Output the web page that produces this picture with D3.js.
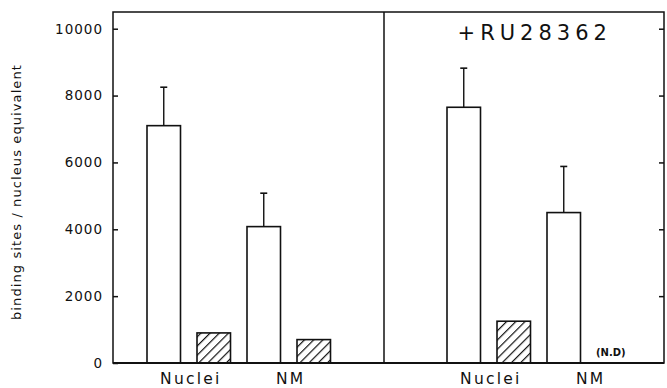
<!DOCTYPE html>
<html>
<head>
<meta charset="utf-8">
<script src="https://cdn.jsdelivr.net/npm/d3@7"></script>
<style>
  body { margin: 0; background: #fff; }
  svg { display: block; font-family: "DejaVu Sans", sans-serif; }
</style>
</head>
<body>
<svg width="667" height="388"></svg>
<script>
// data
var panels = ["control", "+RU28362"];
var categories = ["Nuclei", "NM"];
var openValues = [[7100, 4080], [7650, 4500]];
var openErrors = [[1150, 1000], [1170, 1380]];
var hatchedValues = [[900, 700], [1250, null]]; // null = not determined
var yTicks = [0, 2000, 4000, 6000, 8000, 10000];

var svg = d3.select("svg"),
    width = +svg.attr("width"),
    height = +svg.attr("height");

// note: "top" is reserved on window, so plot edges get their own names
var plotL = 113, plotR = 664, plotT = 12, plotB = 363;

// one slot per bar, 6 slots between the two panels' first bars
var x = d3.scaleLinear().domain([-0.68, 10.34]).range([plotL, plotR]),
    y = d3.scaleLinear().domain([0, 10500]).range([plotB, plotT]),
    barW = 33.5,
    panelOffset = 6,
    divider = 4.74;

// hatch pattern
var defs = svg.append("defs");
defs.append("pattern")
    .attr("id", "hatch")
    .attr("patternUnits", "userSpaceOnUse")
    .attr("width", 6.5).attr("height", 6.5)
    .attr("patternTransform", "rotate(45)")
  .append("line")
    .attr("x1", 0).attr("y1", 0).attr("x2", 0).attr("y2", 6.5)
    .attr("stroke", "#111").attr("stroke-width", 2.4);

var bars = [];
panels.forEach(function(p, pi) {
  categories.forEach(function(c, ci) {
    var s = pi * panelOffset + ci * 2;
    bars.push({slot: s, value: openValues[pi][ci], err: openErrors[pi][ci], type: "open", cat: c});
    bars.push({slot: s + 1, value: hatchedValues[pi][ci], err: null, type: "hatched", cat: c});
  });
});

var g = svg.append("g");

// bars
g.selectAll(".bar")
  .data(bars.filter(function(d) { return d.value != null; }))
  .enter().append("rect")
    .attr("class", "bar")
    .attr("x", function(d) { return x(d.slot); })
    .attr("y", function(d) { return y(d.value); })
    .attr("width", barW)
    .attr("height", function(d) { return y(0) - y(d.value); })
    .attr("fill", function(d) { return d.type == "hatched" ? "url(#hatch)" : "#fff"; })
    .attr("stroke", "#111")
    .attr("stroke-width", 1.6);

// error bars (upper only)
var eb = g.selectAll(".err")
  .data(bars.filter(function(d) { return d.err != null; }))
  .enter().append("g").attr("class", "err");
eb.append("line")
    .attr("x1", function(d) { return x(d.slot) + barW / 2; })
    .attr("x2", function(d) { return x(d.slot) + barW / 2; })
    .attr("y1", function(d) { return y(d.value); })
    .attr("y2", function(d) { return y(d.value + d.err); })
    .attr("stroke", "#111").attr("stroke-width", 1.4);
eb.append("line")
    .attr("x1", function(d) { return x(d.slot) + barW / 2 - 3.5; })
    .attr("x2", function(d) { return x(d.slot) + barW / 2 + 3.5; })
    .attr("y1", function(d) { return y(d.value + d.err); })
    .attr("y2", function(d) { return y(d.value + d.err); })
    .attr("stroke", "#111").attr("stroke-width", 1.6);

// N.D label for missing bars
g.selectAll(".nd")
  .data(bars.filter(function(d) { return d.value == null; }))
  .enter().append("text")
    .attr("x", function(d) { return x(d.slot) + barW / 2 - 3; })
    .attr("y", y(0) - 7)
    .attr("text-anchor", "middle")
    .attr("font-size", 10)
    .attr("font-weight", "bold")
    .attr("fill", "#111")
    .text("(N.D)");

// frame + divider
svg.append("rect")
    .attr("x", plotL).attr("y", plotT)
    .attr("width", plotR - plotL).attr("height", plotB - plotT)
    .attr("fill", "none").attr("stroke", "#111").attr("stroke-width", 1.5);
svg.append("line")
    .attr("x1", plotL).attr("x2", plotR)
    .attr("y1", plotB).attr("y2", plotB)
    .attr("stroke", "#111").attr("stroke-width", 2.2);
svg.append("line")
    .attr("x1", x(divider)).attr("x2", x(divider))
    .attr("y1", plotT).attr("y2", plotB)
    .attr("stroke", "#111").attr("stroke-width", 1.5);

// axes, ticks pointing inward
var yAxisL = svg.append("g")
    .attr("transform", "translate(" + plotL + ",0)")
    .call(d3.axisRight(y).tickValues(yTicks).tickSize(5).tickFormat(""));
var yAxisR = svg.append("g")
    .attr("transform", "translate(" + plotR + ",0)")
    .call(d3.axisLeft(y).tickValues(yTicks.slice(1)).tickSize(5).tickFormat(""));
[yAxisL, yAxisR].forEach(function(a) {
  a.select(".domain").remove();
  a.selectAll("line").attr("stroke", "#111").attr("stroke-width", 1.5);
});

svg.append("g").selectAll("text")
  .data(yTicks)
  .enter().append("text")
    .attr("x", plotL - 10)
    .attr("y", function(d) { return y(d); })
    .attr("dy", "0.36em")
    .attr("text-anchor", "end")
    .attr("font-size", 13.5)
    .attr("letter-spacing", 1)
    .attr("fill", "#111")
    .text(function(d) { return d; });

// category labels
var catLabels = [];
panels.forEach(function(p, pi) {
  categories.forEach(function(c, ci) {
    catLabels.push({slot: pi * panelOffset + ci * 2, name: c});
  });
});
svg.append("g").selectAll("text")
  .data(catLabels)
  .enter().append("text")
    .attr("x", function(d) { return (x(d.slot) + x(d.slot + 1) + barW) / 2 + 2; })
    .attr("y", 384)
    .attr("text-anchor", "middle")
    .attr("font-size", 15.5)
    .attr("letter-spacing", 2.2)
    .attr("fill", "#111")
    .text(function(d) { return d.name; });

// y label
svg.append("text")
    .attr("transform", "translate(21,192) rotate(-90)")
    .attr("text-anchor", "middle")
    .attr("font-size", 13)
    .attr("letter-spacing", 1.1)
    .attr("fill", "#111")
    .text("binding sites / nucleus equivalent");

// panel title
svg.append("text")
    .attr("x", (x(panelOffset) + x(panelOffset + 3) + barW) / 2 - 4)
    .attr("y", 40)
    .attr("text-anchor", "middle")
    .attr("font-size", 21)
    .attr("letter-spacing", 5)
    .attr("fill", "#111")
    .text(panels[1]);
</script>
</body>
</html>
